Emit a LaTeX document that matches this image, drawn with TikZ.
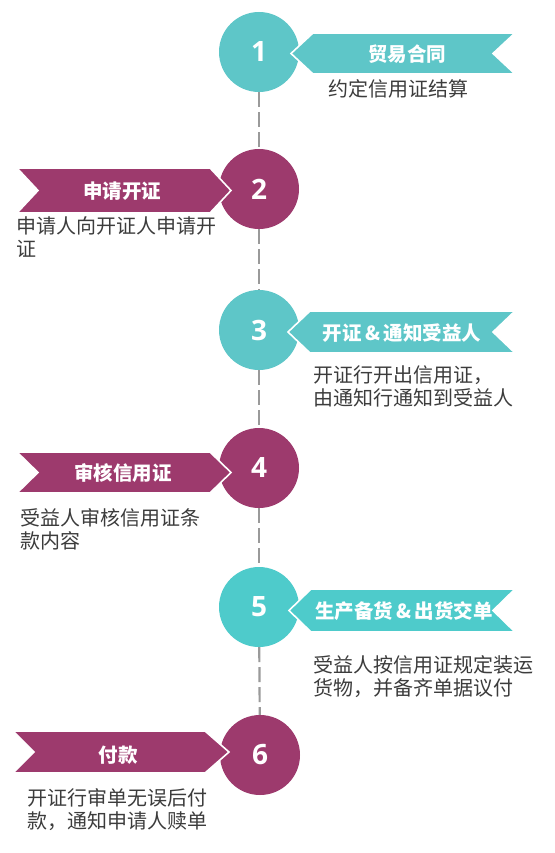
\documentclass[tikz,border=0pt]{standalone}
\usepackage{fontspec}
\setmainfont{Open Sans}
\newfontfamily\cjk{Noto Sans CJK SC}
\newfontfamily\numfont{Open Sans}
\definecolor{tealA}{HTML}{5EC6C8}
\definecolor{tealB}{HTML}{4ECBCB}
\definecolor{plum}{HTML}{9D3A6D}
\definecolor{txtgray}{HTML}{3C3C3C}
\definecolor{dashgray}{HTML}{9A9A9A}
\begin{document}
\begin{tikzpicture}[x=1pt,y=-1pt,
  circ/.style={circle,minimum size=80pt,inner sep=0pt,text=white,font=\numfont\bfseries\fontsize{28}{28}\selectfont},
  ribbon/.style={draw=white,line width=1.6pt,line join=miter},
  rlabel/.style={text=white,font=\cjk\bfseries\fontsize{19.5}{19.5}\selectfont,inner sep=0pt},
  desc/.style={anchor=north west,align=left,inner sep=0pt,text=txtgray,font=\cjk\fontsize{20}{23.5}\selectfont},
  link/.style={draw=dashgray,line width=2.2pt,dash pattern=on 15pt off 5pt}
]
\useasboundingbox (0,0) rectangle (554,853);
\fill[white] (0,0) rectangle (554,853);

% circles
\node[circ,fill=tealA] (c1) at (259,52) {1};
\node[circ,fill=plum]  (c2) at (259,189) {2};
\node[circ,fill=tealA] (c3) at (259,330) {3};
\node[circ,fill=plum]  (c4) at (259,468) {4};
\node[circ,fill=tealB] (c5) at (259,607) {5};
\node[circ,fill=plum]  (c6) at (260,755) {6};

% dashed links
\draw[link] (c1) -- (c2);
\draw[link] (c2) -- (c3);
\draw[link] (c3) -- (c4);
\draw[link] (c4) -- (c5);
\draw[link] (c5) -- (c6);

% right ribbons (pointing left)
\filldraw[ribbon,fill=tealA] (291,53.5) -- (313,33) -- (515,33) -- (493,53.5) -- (515,74) -- (313,74) -- cycle;
\filldraw[ribbon,fill=tealA] (288,332) -- (310,311) -- (515,311) -- (493,332) -- (515,353) -- (310,353) -- cycle;
\filldraw[ribbon,fill=tealB] (289,610.5) -- (311,589) -- (515,589) -- (493,610.5) -- (515,632) -- (311,632) -- cycle;

% left ribbons (pointing right)
\filldraw[ribbon,fill=plum] (17,168) -- (210,168) -- (231,190.5) -- (210,213) -- (17,213) -- (38,190.5) -- cycle;
\filldraw[ribbon,fill=plum] (17,452) -- (210,452) -- (231,472.5) -- (210,493) -- (17,493) -- (38,472.5) -- cycle;
\filldraw[ribbon,fill=plum] (13,731) -- (205,731) -- (229,752) -- (205,773) -- (13,773) -- (34,752) -- cycle;

% ribbon labels
\node[rlabel] (r1) at (407,54) {贸易合同};
\node[rlabel] (r2) at (122,191) {申请开证};
\node[rlabel] (r3) at (402,333) {开证\,\&\,通知受益人};
\node[rlabel] (r4) at (123,473) {审核信用证};
\node[rlabel] (r5) at (404,611) {生产备货\,\&\,出货交单};
\node[rlabel] (r6) at (118,755) {付款};

% descriptions
\node[desc] (d1) at (328,79) {约定信用证结算};
\node[desc] (d2) at (16,216) {申请人向开证人申请开\\证};
\node[desc] (d3) at (313,365) {开证行开出信用证，\\由通知行通知到受益人};
\node[desc] (d4) at (20,508) {受益人审核信用证条\\款内容};
\node[desc] (d5) at (313,655) {受益人按信用证规定装运\\货物，并备齐单据议付};
\node[desc] (d6) at (27,788) {开证行审单无误后付\\款，通知申请人赎单};
\end{tikzpicture}
\end{document}
